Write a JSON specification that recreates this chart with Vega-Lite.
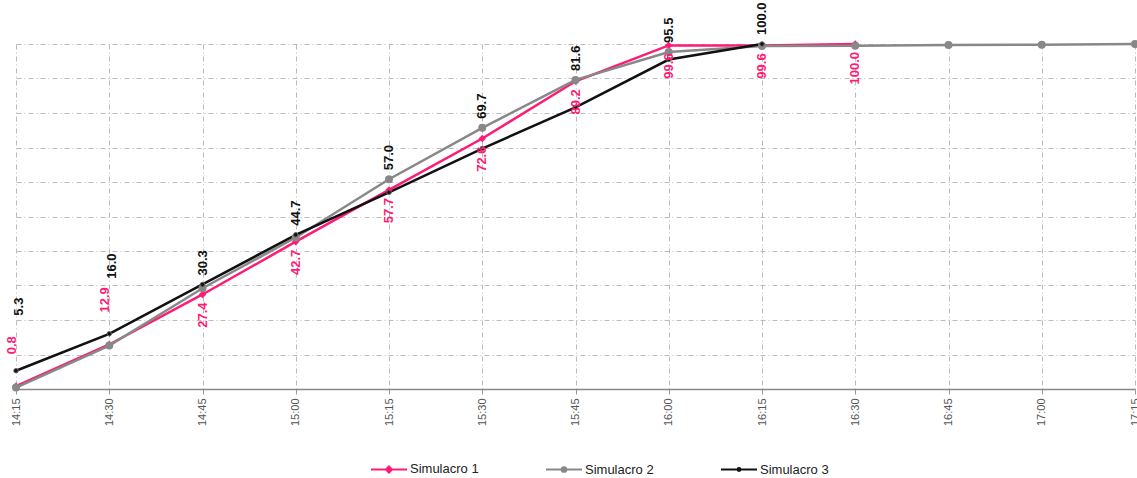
{
  "$schema": "https://vega.github.io/schema/vega-lite/v6.json",
  "width": 1119,
  "height": 345,
  "autosize": {"type": "none"},
  "padding": {"left": 16, "top": 44, "right": 2, "bottom": 89},
  "config": {
    "view": {"stroke": null},
    "font": "Liberation Sans"
  },
  "data": {
    "values": [
      {"t": "14:15", "s": "Simulacro 1", "v": 0.8},
      {"t": "14:30", "s": "Simulacro 1", "v": 12.9},
      {"t": "14:45", "s": "Simulacro 1", "v": 27.4},
      {"t": "15:00", "s": "Simulacro 1", "v": 42.7},
      {"t": "15:15", "s": "Simulacro 1", "v": 57.7},
      {"t": "15:30", "s": "Simulacro 1", "v": 72.6},
      {"t": "15:45", "s": "Simulacro 1", "v": 89.2},
      {"t": "16:00", "s": "Simulacro 1", "v": 99.6},
      {"t": "16:15", "s": "Simulacro 1", "v": 99.6},
      {"t": "16:30", "s": "Simulacro 1", "v": 100.0},
      {"t": "14:15", "s": "Simulacro 2", "v": 0.4},
      {"t": "14:30", "s": "Simulacro 2", "v": 12.6},
      {"t": "14:45", "s": "Simulacro 2", "v": 29.2},
      {"t": "15:00", "s": "Simulacro 2", "v": 43.9},
      {"t": "15:15", "s": "Simulacro 2", "v": 60.8},
      {"t": "15:30", "s": "Simulacro 2", "v": 75.7},
      {"t": "15:45", "s": "Simulacro 2", "v": 89.6},
      {"t": "16:00", "s": "Simulacro 2", "v": 97.7},
      {"t": "16:15", "s": "Simulacro 2", "v": 99.4},
      {"t": "16:30", "s": "Simulacro 2", "v": 99.5},
      {"t": "16:45", "s": "Simulacro 2", "v": 99.7},
      {"t": "17:00", "s": "Simulacro 2", "v": 99.8},
      {"t": "17:15", "s": "Simulacro 2", "v": 100.0},
      {"t": "14:15", "s": "Simulacro 3", "v": 5.3},
      {"t": "14:30", "s": "Simulacro 3", "v": 16.0},
      {"t": "14:45", "s": "Simulacro 3", "v": 30.3},
      {"t": "15:00", "s": "Simulacro 3", "v": 44.7},
      {"t": "15:15", "s": "Simulacro 3", "v": 57.0},
      {"t": "15:30", "s": "Simulacro 3", "v": 69.7},
      {"t": "15:45", "s": "Simulacro 3", "v": 81.6},
      {"t": "16:00", "s": "Simulacro 3", "v": 95.5},
      {"t": "16:15", "s": "Simulacro 3", "v": 100.0}
    ]
  },
  "encoding": {
    "x": {
      "field": "t",
      "type": "ordinal",
      "scale": {"type": "point", "padding": 0},
      "axis": {
        "title": null,
        "labelAngle": -90,
        "labelFontSize": 11,
        "labelColor": "#555555",
        "labelPadding": 4,
        "tickSize": 5,
        "tickColor": "#999999",
        "domainColor": "#888888",
        "domainWidth": 1.5,
        "grid": true,
        "gridColor": "#bbbbbb",
        "gridDash": [5, 3, 1, 3],
        "gridWidth": 1
      }
    },
    "y": {
      "field": "v",
      "type": "quantitative",
      "scale": {"domain": [0, 100], "nice": false},
      "axis": {
        "title": null,
        "labels": false,
        "ticks": false,
        "domain": false,
        "values": [10, 20, 30, 40, 50, 60, 70, 80, 90, 100],
        "grid": true,
        "gridColor": "#bbbbbb",
        "gridDash": [5, 3, 1, 3],
        "gridWidth": 1
      }
    }
  },
  "layer": [
    {
      "mark": {"type": "line", "strokeWidth": 2.5},
      "encoding": {
        "color": {
          "field": "s",
          "type": "nominal",
          "scale": {"domain": ["Simulacro 1", "Simulacro 2", "Simulacro 3"], "range": ["#ff1a75", "#888888", "#111111"]},
          "legend": {
            "title": null,
            "orient": "none",
            "direction": "horizontal",
            "legendX": 354,
            "legendY": 406,
            "labelFontSize": 13,
            "labelColor": "#222222",
            "labelOffset": 2,
            "columnPadding": 63,
            "symbolSize": 1296,
            "symbolStrokeWidth": 2,
            "symbolType": "M-1,0H1M-0.12,0A0.12,0.12 0 1,0 0.12,0A0.12,0.12 0 1,0 -0.12,0Z",
            "encode": {
              "symbols": {
                "update": {
                  "fill": {"signal": "scale('color', datum.value)"},
                  "stroke": {"signal": "scale('color', datum.value)"},
                  "shape": {"signal": "datum.value === 'Simulacro 1' ? 'M-1,0H1M0,-0.17L0.17,0L0,0.17L-0.17,0Z' : (datum.value === 'Simulacro 2' ? 'M-1,0H1M-0.13,0A0.13,0.13 0 1,0 0.13,0A0.13,0.13 0 1,0 -0.13,0Z' : 'M-1,0H1M-0.08,0A0.08,0.08 0 1,0 0.08,0A0.08,0.08 0 1,0 -0.08,0Z')"}
                }
              }
            }
          }
        }
      }
    },
    {
      "transform": [{"filter": "datum.s === 'Simulacro 1'"}],
      "mark": {"type": "point", "filled": true, "opacity": 1, "shape": "diamond", "size": 55, "color": "#ff1a75"},
      "encoding": {}
    },
    {
      "transform": [{"filter": "datum.s === 'Simulacro 2'"}],
      "mark": {"type": "point", "filled": true, "opacity": 1, "shape": "circle", "size": 64, "color": "#888888"},
      "encoding": {}
    },
    {
      "transform": [{"filter": "datum.s === 'Simulacro 3'"}],
      "mark": {"type": "point", "filled": true, "opacity": 1, "shape": "circle", "size": 20, "color": "#111111", "stroke": "#666666", "strokeWidth": 1},
      "encoding": {}
    },
    {
      "transform": [{"filter": "datum.s === 'Simulacro 1' && datum.v >= 20"}],
      "mark": {"type": "text", "angle": 270, "align": "right", "baseline": "middle", "dx": -8, "fontSize": 13, "fontWeight": "bold", "color": "#ff1a75"},
      "encoding": {
        "text": {"field": "v", "type": "quantitative", "format": ".1f"}
      }
    },
    {
      "transform": [{"filter": "datum.s === 'Simulacro 1' && datum.v < 20"}],
      "mark": {"type": "text", "angle": 270, "align": "left", "baseline": "middle", "dx": 32, "dy": -4, "fontSize": 13, "fontWeight": "bold", "color": "#ff1a75"},
      "encoding": {
        "text": {"field": "v", "type": "quantitative", "format": ".1f"}
      }
    },
    {
      "transform": [
        {"filter": "datum.s !== 'Simulacro 1'"},
        {"joinaggregate": [{"op": "max", "field": "v", "as": "top"}], "groupby": ["t"]},
        {"filter": "datum.s === 'Simulacro 3' && datum.v >= 20"}
      ],
      "mark": {"type": "text", "angle": 270, "align": "left", "baseline": "middle", "dx": 9, "fontSize": 13, "fontWeight": "bold", "color": "#111111"},
      "encoding": {
        "y": {"field": "top", "type": "quantitative"},
        "text": {"field": "v", "type": "quantitative", "format": ".1f"}
      }
    },
    {
      "transform": [{"filter": "datum.s === 'Simulacro 3' && datum.v < 20"}],
      "mark": {"type": "text", "angle": 270, "align": "left", "baseline": "middle", "dx": 55, "dy": 3, "fontSize": 13, "fontWeight": "bold", "color": "#111111"},
      "encoding": {
        "text": {"field": "v", "type": "quantitative", "format": ".1f"}
      }
    }
  ]
}
